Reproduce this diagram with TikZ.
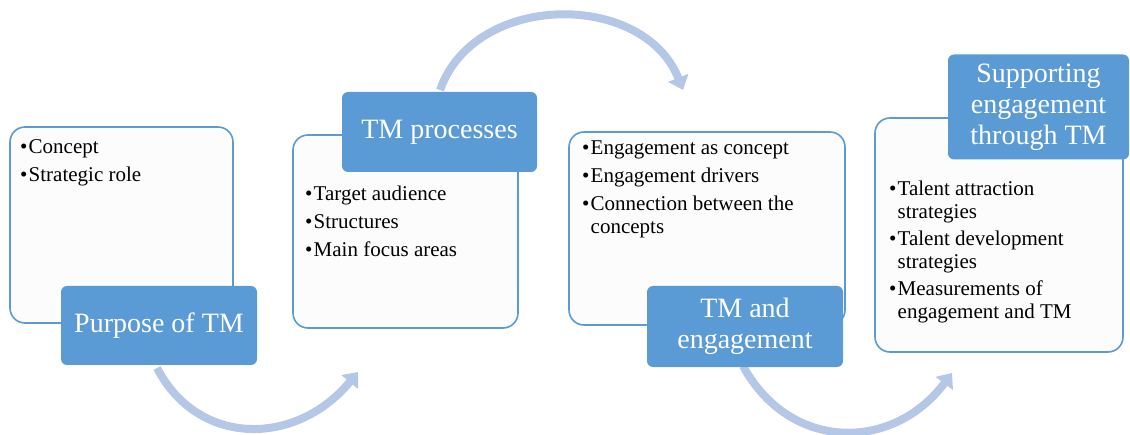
\documentclass[tikz,border=0pt]{standalone}
\usepackage{fontspec}
\setmainfont{Liberation Serif}
\usetikzlibrary{arrows.meta}
\definecolor{tmblue}{HTML}{5B9BD5}
\definecolor{tmarrow}{HTML}{B4C7E7}
\definecolor{boxfill}{HTML}{FCFCFC}
\newcommand{\bu}{\makebox[8.5pt][l]{•}}
\newcommand{\cont}{\hspace*{8.5pt}}
\tikzset{
  outbox/.style={draw=tmblue, line width=1.6pt, fill=boxfill, rounded corners=15pt, inner sep=0pt},
  bluebox/.style={fill=tmblue, rounded corners=6pt, text=white, align=center, inner sep=0pt,
    font=\fontsize{28}{31}\selectfont},
  bullets/.style={anchor=base west, align=left, inner sep=0pt, font=\fontsize{21}{23}\selectfont},
  flow/.style={draw=tmarrow, line width=8pt, -{Triangle[width=21pt,length=13pt]}}
}
\begin{document}
\begin{tikzpicture}[x=1pt,y=1pt]
\useasboundingbox (0,0) rectangle (1130,434);
% arrows
\coordinate (a1s) at (157,66);
\coordinate (a1e) at (358,62);
\coordinate (a2s) at (440,344);
\coordinate (a2e) at (683,344);
\coordinate (a3s) at (743,68);
\coordinate (a3e) at (952,61);
\draw[flow] (a1s) .. controls (198,-13) and (296,-13) .. (a1e);
\draw[flow] (a2s) .. controls (475,443) and (644,443) .. (a2e);
\draw[flow] (a3s) .. controls (790,-18) and (893,-18) .. (a3e);
% outline boxes
\node[outbox, minimum width=223pt, minimum height=196pt] (b1) at (121.5,209) {};
\node[outbox, minimum width=225pt, minimum height=193pt] (b2) at (405.5,202.5) {};
\node[outbox, minimum width=276pt, minimum height=193pt] (b3) at (707,205.5) {};
\node[outbox, minimum width=248pt, minimum height=234pt] (b4) at (999,199) {};
% title boxes
\node[bluebox, minimum width=196pt, minimum height=79pt] (t1) at (159,108.5) {Purpose of TM};
\node[bluebox, minimum width=195pt, minimum height=80pt] (t2) at (439.5,302) {TM processes};
\node[bluebox, minimum width=196pt, minimum height=81pt] (t3) at (745,107.5) {TM and\\engagement};
\node[bluebox, minimum width=181pt, minimum height=105pt] (t4) at (1038.5,327) {Supporting\\engagement\\through TM};
% bullet texts (base anchor = baseline of last line)
\node[bullets] (l1) at (20,252) {\bu Concept\\[5pt]\bu Strategic role};
\node[bullets] (l2) at (305,177) {\bu Target audience\\[5pt]\bu Structures\\[5pt]\bu Main focus areas};
\node[bullets] (l3) at (582,200) {\bu Engagement as concept\\[5pt]\bu Engagement drivers\\[5pt]\bu Connection between the\\\cont concepts};
\node[bullets] (l4) at (889,115) {\bu Talent attraction\\\cont strategies\\[4pt]\bu Talent development\\\cont strategies\\[4pt]\bu Measurements of\\\cont engagement and TM};
\end{tikzpicture}
\end{document}
